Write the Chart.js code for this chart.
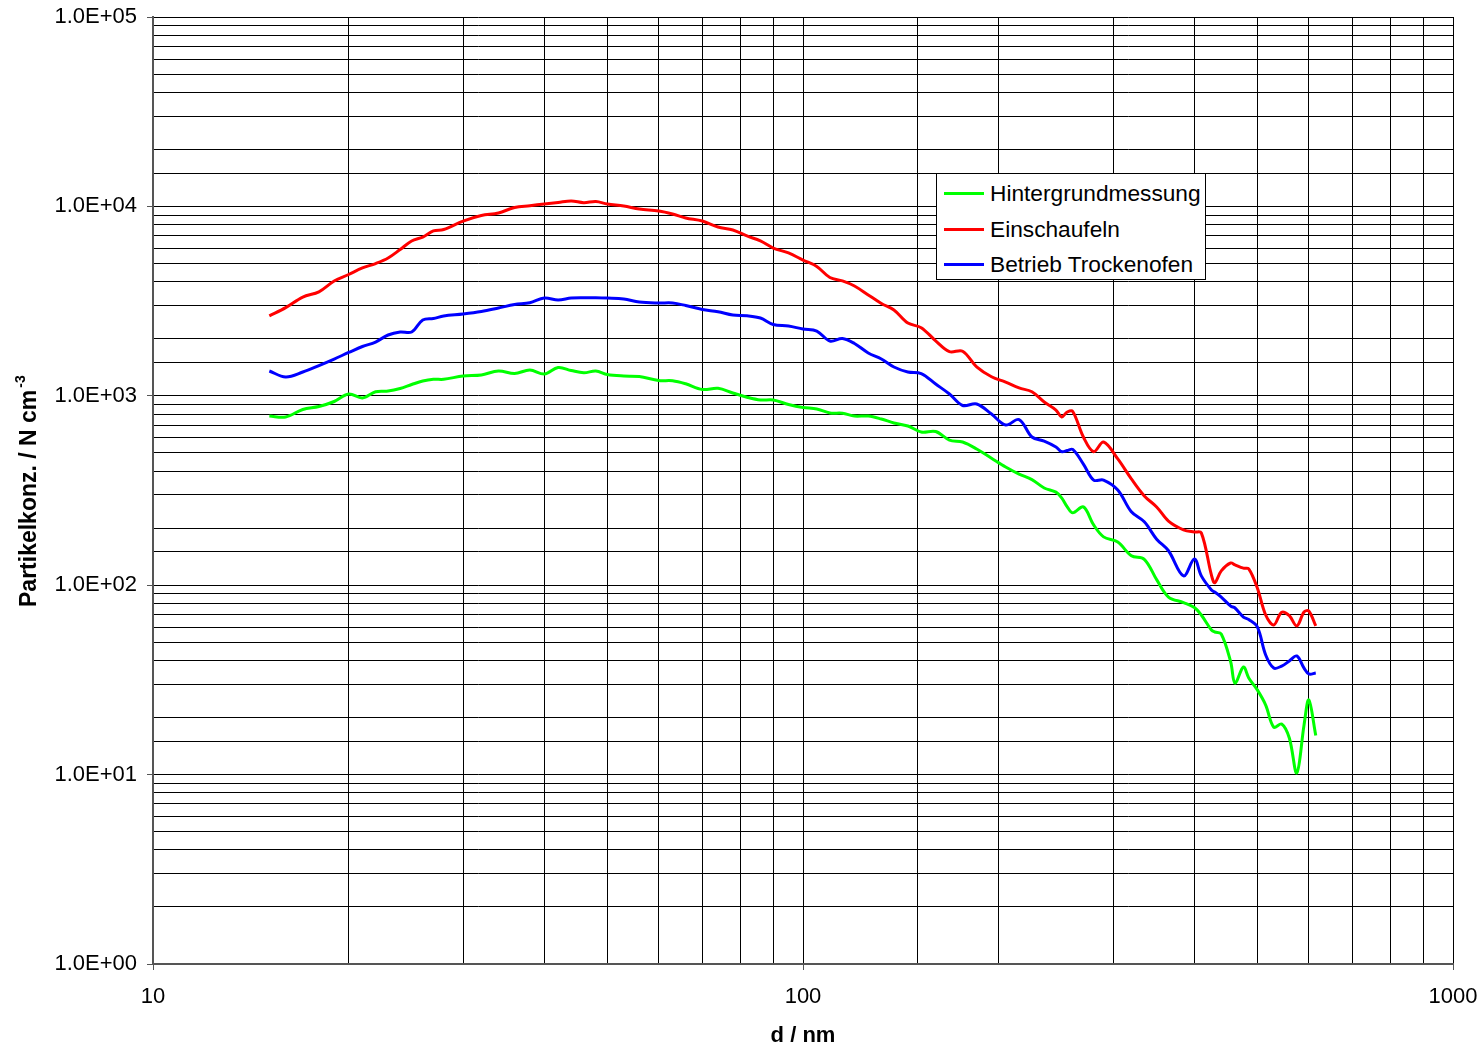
<!DOCTYPE html>
<html>
<head>
<meta charset="utf-8">
<script src="https://cdn.jsdelivr.net/npm/chart.js@4.4.1/dist/chart.umd.min.js"></script>
<style>
body{margin:0;background:#fff;font-family:"Liberation Sans",Arial,sans-serif;}
#wrap{position:relative;width:1483px;height:1049px;}
#legend{position:absolute;left:936px;top:173px;width:268px;height:105px;border:1px solid #000;background:#fff;}
.row{position:absolute;left:0;height:30px;display:flex;align-items:center;font-size:22.7px;color:#000;white-space:nowrap;}
.row .ln{display:inline-block;width:40px;height:3px;margin-left:7px;margin-right:6px;}
</style>
</head>
<body>
<div id="wrap">
<canvas id="chart" width="1483" height="1049"></canvas>
<div id="legend"></div>
</div>
<script>
/* Durchmesser d / nm */
const diam=[15.1,16,17,18,19,20,21,22,23,24,25,26,27,28,
30,32,34,36,38,40,42,44,46,48,50,
53,56,60,63,66,70,74,78,82,86,90,95,100,
105,110,115,120,126,132,138,145,152,160,168,176,185,195,
205,215,225,235,245,250,255,260,270,280,290,305,
320,335,350,365,385,400,410,425,430,440,455,462,476,485,
500,515,530,545,560,575,590,600,615];

/* Partikelkonz. / N cm-3 */
const hintergrund=[782,773,847,878,933,1022,974,1051,1060,1093,1147,1197,1222,1222,
1272,1288,1352,1311,1368,1303,1411,1360,1323,1352,1296,
1272,1264,1204,1201,1157,1080,1095,1035,983,950,950,900,868,
852,812,809,782,782,754,719,693,644,648,584,570,524,468,
421,386,361,326,310,289,259,241,259,208,180,169,
143,137,107,86.6,81,76.3,69.6,58,56.6,55.3,39.3,30.4,37,32.4,
28,23.3,17.8,18.5,15.6,10.2,18.3,24.8,16.1];

const einschaufeln=[2640,2920,3320,3540,4040,4370,4730,4990,5340,5920,6570,6890,7420,7550,
8370,8950,9230,9870,10090,10300,10490,10680,10460,10610,10300,
10050,9690,9460,9120,8690,8370,7780,7510,6980,6570,6030,5680,5210,
4820,4210,4040,3800,3410,3070,2840,2420,2290,1950,1710,1720,1420,1260,
1180,1100,1050,927,841,773,821,826,606,507,570,464,
364,296,259,218,196,191,189,113,103,119,131,128,123,122,
96.7,69.6,61.7,72,69,60.9,72.2,73.1,60.9];

const trockenofen=[1352,1257,1335,1445,1564,1693,1821,1923,2094,2172,2172,2513,2559,2638,
2703,2787,2908,3034,3101,3283,3205,3283,3296,3296,3283,
3245,3128,3090,3090,2998,2856,2780,2671,2648,2574,2379,2336,2252,
2198,1947,2007,1889,1683,1564,1419,1335,1311,1154,1022,889,905,801,
701,749,606,577,537,507,514,521,436,359,359,318,
244,216,175,152,112,137.5,112,94.3,92,86.6,77.6,75.8,67.9,65.9,
60.2,42.8,36.5,37.4,39.8,42.3,36.5,34,34.4];

const seriesNames=["Hintergrundmessung","Einschaufeln","Betrieb Trockenofen"];
const seriesColors=["#00ff00","#ff0000","#0000ff"];
const xTitle="d / nm";
const yTitle="Partikelkonz. / N cm";
const yTitleSup="-3";

function pts(arr){
return diam.map((d,i)=>({x:d,y:arr[i]}));
}

function isDecade(v){
let l=Math.log10(v);
return Math.abs(l-Math.round(l))<1e-9;
}

/* Y-Achsentitel mit Hochzahl */
const yTitlePlugin={
id:"yTitle",
afterDraw(chart){
let ctx=chart.ctx;
ctx.save();
ctx.translate(36,607);
ctx.rotate(-Math.PI/2);
ctx.fillStyle="#000";
ctx.textBaseline="alphabetic";
ctx.textAlign="left";
ctx.font="bold 23px 'Liberation Sans', Arial, sans-serif";
ctx.fillText(yTitle,0,0);
let w=ctx.measureText(yTitle).width;
ctx.font="bold 14px 'Liberation Sans', Arial, sans-serif";
ctx.fillText(yTitleSup,w+2,-11);
ctx.restore();
}
};

const font={family:"'Liberation Sans', Arial, sans-serif",size:22};

const chart=new Chart(document.getElementById("chart"),{
type:"line",
data:{
datasets:[
{label:seriesNames[0],data:pts(hintergrund),borderColor:seriesColors[0]},
{label:seriesNames[1],data:pts(einschaufeln),borderColor:seriesColors[1]},
{label:seriesNames[2],data:pts(trockenofen),borderColor:seriesColors[2]}
]
},
options:{
responsive:false,
animation:false,
layout:{padding:{top:17,right:30,left:0,bottom:0}},
elements:{
line:{borderWidth:3,tension:0.35,fill:false},
point:{radius:0}
},
plugins:{legend:{display:false},tooltip:{enabled:false}},
scales:{
x:{
type:"logarithmic",
min:10,max:1000,
afterFit:s=>{s.height=85;s.paddingLeft=0;s.paddingRight=0;},
border:{color:"#555",width:2},
grid:{color:"#000",lineWidth:1,tickLength:6,
tickColor:c=>isDecade(c.tick.value)?"#555":"rgba(0,0,0,0)"},
ticks:{autoSkip:false,maxRotation:0,color:"#000",font:font,padding:14,
callback:v=>isDecade(v)?String(v):""},
title:{display:true,text:xTitle,color:"#000",
font:{family:font.family,size:22,weight:"bold"},padding:{top:0,bottom:0}}
},
y:{
type:"logarithmic",
min:1,max:100000,
afterFit:s=>{s.width=153;s.paddingTop=0;s.paddingBottom=0;},
border:{color:"#555",width:2},
grid:{color:"#000",lineWidth:1,tickLength:6,
tickColor:c=>isDecade(c.tick.value)?"#555":"rgba(0,0,0,0)"},
ticks:{autoSkip:false,color:"#000",font:font,padding:10,
callback:v=>isDecade(v)?"1.0E+"+String(Math.round(Math.log10(v))).padStart(2,"0"):""}
}
}
},
plugins:[yTitlePlugin]
});

/* Legende */
let lg=document.getElementById("legend");
let tops=[4,40,75];
chart.data.datasets.forEach((ds,i)=>{
let r=document.createElement("div");
r.className="row";
r.style.top=tops[i]+"px";
r.innerHTML='<span class="ln" style="background:'+ds.borderColor+'"></span>'+ds.label;
lg.appendChild(r);
});
</script>
</body>
</html>
